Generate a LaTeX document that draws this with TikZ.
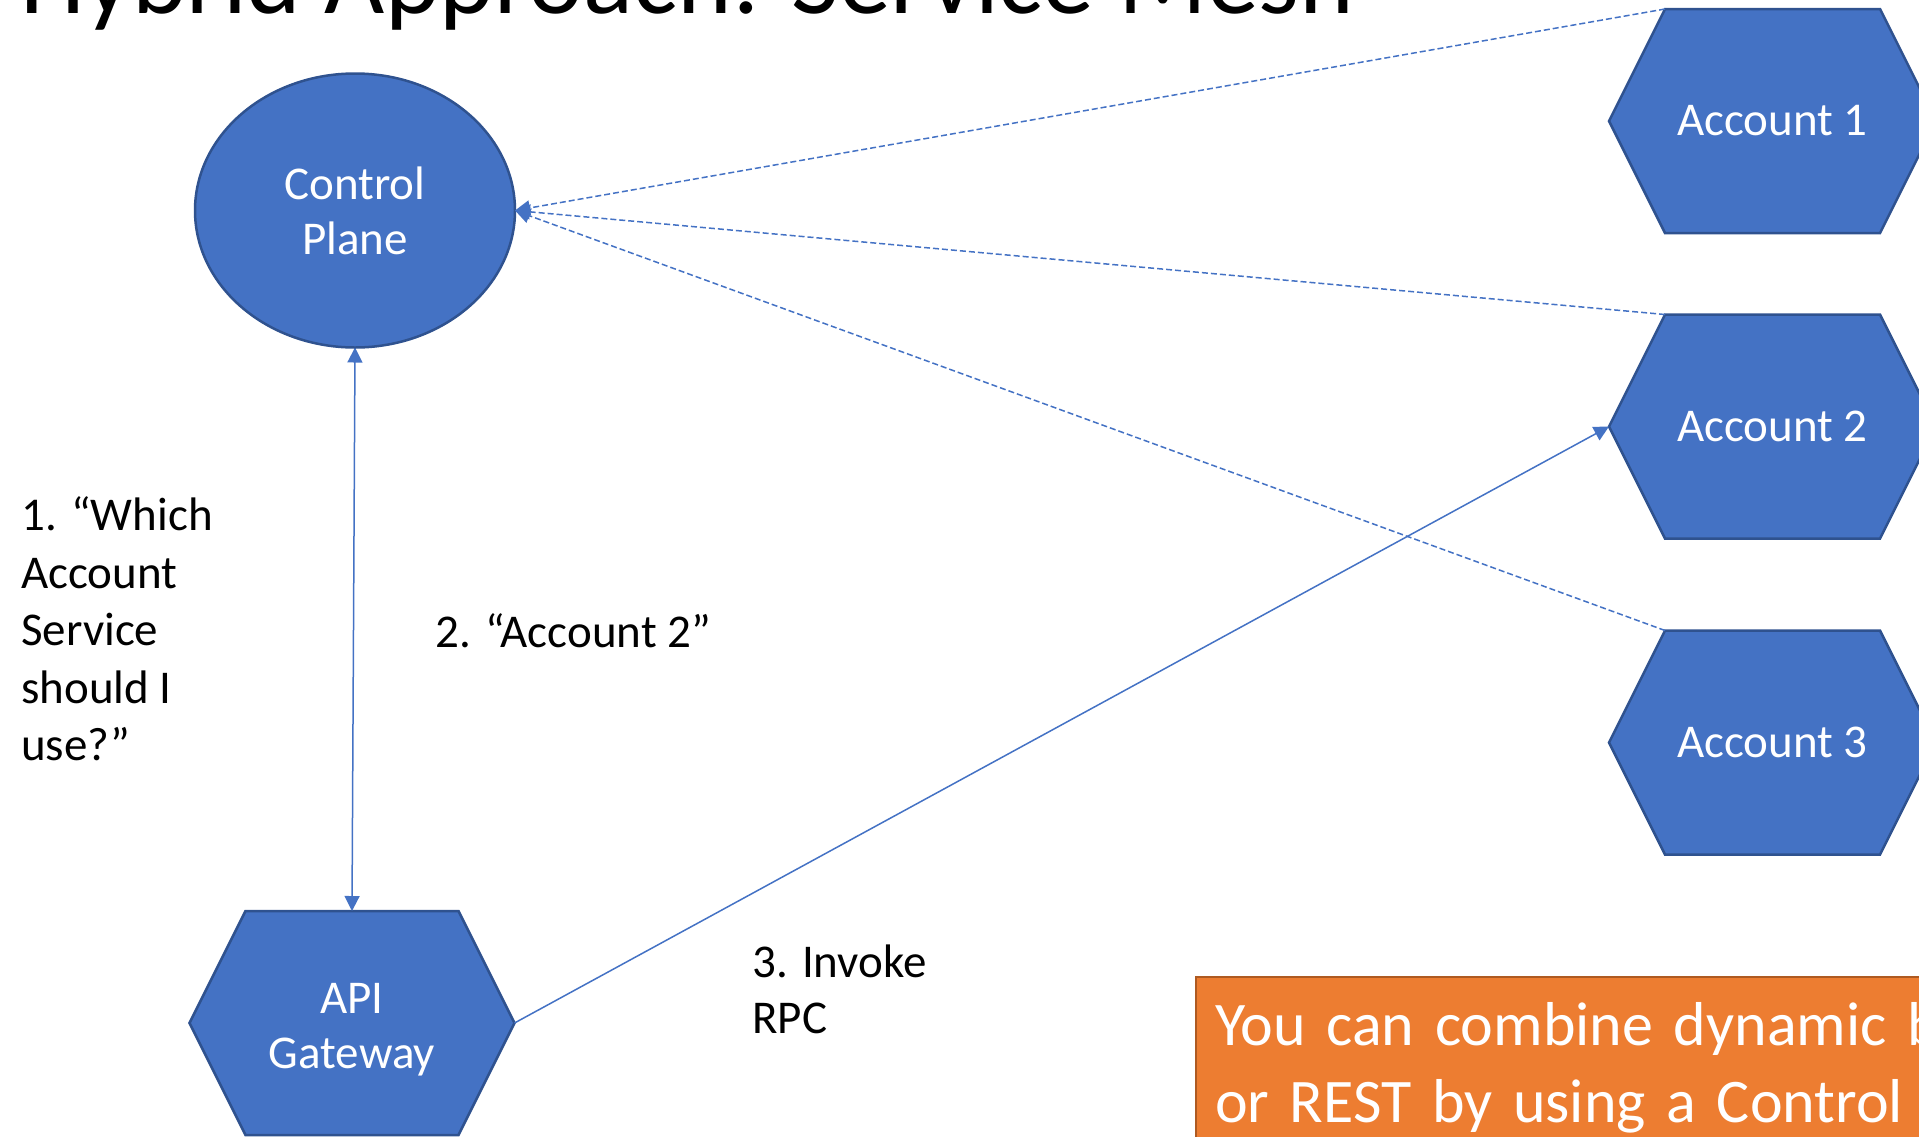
\documentclass[tikz,border=0pt]{standalone}
\usepackage{fontspec}
\setmainfont{Carlito}
\usetikzlibrary{shapes.geometric,arrows.meta,calc,backgrounds}
\definecolor{hexblue}{HTML}{4472C4}
\definecolor{hexedge}{HTML}{2F528F}
\definecolor{boxorange}{HTML}{ED7D31}
\definecolor{boxedge}{HTML}{AE5A21}
\newcommand\drawhex[1]{%
  \path[hexfill] ($(#1.north west)+(56,0)$) -- ($(#1.north east)+(-56,0)$) -- (#1.east)
    -- ($(#1.south east)+(-56,0)$) -- ($(#1.south west)+(56,0)$) -- (#1.west) -- cycle;}
\begin{document}
\begin{tikzpicture}[x=1pt,y=-1pt,
  shapetext/.style={text=white,font=\fontsize{47}{55}\selectfont,align=center},
  hexnode/.style={shapetext,rectangle,inner sep=0pt,outer sep=0pt,minimum width=327pt,minimum height=224pt},
  hexfill/.style={fill=hexblue,draw=hexedge,line width=2.5pt,line join=miter},
  ellnode/.style={shapetext,ellipse,fill=hexblue,draw=hexedge,line width=2.5pt,inner sep=0pt,outer sep=0pt,minimum width=320pt,minimum height=274pt},
  labeltext/.style={text=black,font=\fontsize{47}{57.5}\selectfont,align=left,inner sep=0pt},
  conn/.style={draw=hexblue,line width=1.5pt},
  dashconn/.style={conn,dash pattern=on 6pt off 3pt},
  headtip/.tip={Triangle[length=15pt,width=15pt]}
]
\useasboundingbox (0,0) rectangle (1919,1136);
\clip (0,0) rectangle (1919,1136);

% title (mostly cut off at the top)
\node[anchor=base west,inner sep=0pt,font=\fontsize{104}{120}\selectfont] (title) at (20,13) {Hybrid Approach: Service Mesh};

% shapes
\node[ellnode] (cp) at (355,210.5) {Control\\Plane};
\node[hexnode] (a1) at (1772.5,121) {Account 1};
\node[hexnode] (a2) at (1772.5,426.5) {Account 2};
\node[hexnode] (a3) at (1772.5,742.5) {Account 3};
\node[hexnode,minimum width=325pt] (api) at (352,1023) {};
\node[shapetext,inner sep=0pt] (apilabel) at (352,1030) {API\\Gateway};
\begin{scope}[on background layer]
  \drawhex{a1}
  \drawhex{a2}
  \drawhex{a3}
  \drawhex{api}
\end{scope}

% labels
\node[labeltext,anchor=west] (q1) at (21,629) {1. “Which\\Account\\Service\\should I\\use?”};
\node[labeltext,anchor=base west] (q2) at (435,647) {2. “Account 2”};
\node[labeltext,anchor=west,font=\fontsize{47}{56}\selectfont] (q3) at (752,989) {3. Invoke\\RPC};

% orange note (cut off at right and bottom)
\node[anchor=north west,fill=boxorange,draw=boxedge,line width=2pt,text=white,
      font=\fontsize{62}{77}\selectfont,text width=1500pt,align=left,
      inner xsep=19pt,inner ysep=25pt,outer sep=0pt] (note) at (1196,977)
      {You can combine dynamic binding with RPC\\or REST by using a Control Plane};

% connectors
\coordinate (a1tl) at ($(a1.north west)+(56,0)$);
\coordinate (a2tl) at ($(a2.north west)+(56,0)$);
\coordinate (a3tl) at ($(a3.north west)+(56,0)$);
\draw[dashconn,-headtip] (a1tl) -- (cp.east);
\draw[dashconn,-headtip] (a2tl) -- (cp.east);
\draw[dashconn,-headtip] (a3tl) -- (cp.east);
\draw[conn,headtip-headtip] (cp.south) -- (api.north);
\draw[conn,-headtip] (api.east) -- (a2.west);
\end{tikzpicture}
\end{document}
